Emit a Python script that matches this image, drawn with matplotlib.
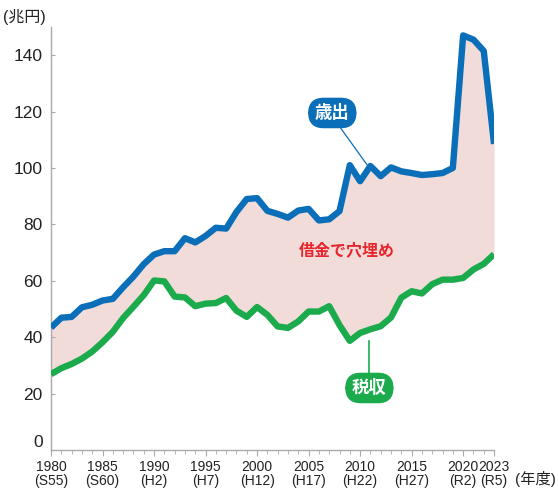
import matplotlib
matplotlib.use("Agg")
import matplotlib.pyplot as plt
from matplotlib.ticker import MultipleLocator

plt.rcParams['font.family'] = ['Liberation Sans', 'Noto Sans CJK JP', 'DejaVu Sans']

years = list(range(1980, 2024))
expenditure = [43.4, 46.9, 47.2, 50.6, 51.5, 53.0, 53.6, 57.7, 61.5, 65.9,
               69.3, 70.5, 70.5, 75.1, 73.6, 75.9, 78.8, 78.5, 84.4, 89.0,
               89.3, 84.8, 83.7, 82.4, 84.9, 85.5, 81.4, 81.8, 84.7, 101.0,
               95.3, 100.7, 97.1, 100.2, 98.8, 98.2, 97.5, 97.8, 98.2, 100.0,
               147.0, 145.5, 141.5, 108.5]
tax_revenue = [26.9, 29.0, 30.5, 32.4, 34.9, 38.2, 41.9, 46.8, 50.8, 54.9,
               60.1, 59.8, 54.4, 54.1, 51.0, 51.9, 52.1, 53.9, 49.4, 47.2,
               50.7, 47.9, 43.8, 43.3, 45.6, 49.1, 49.1, 51.0, 44.3, 38.7,
               41.5, 42.8, 43.9, 47.0, 54.0, 56.3, 55.5, 58.8, 60.4, 60.4,
               61.0, 64.0, 66.0, 69.4]
tick_years = [1980, 1985, 1990, 1995, 2000, 2005, 2010, 2015, 2020, 2023]
era_labels = ["(S55)", "(S60)", "(H2)", "(H7)", "(H12)", "(H17)", "(H22)", "(H27)", "(R2)", "(R5)"]
y_ticks = [0, 20, 40, 60, 80, 100, 120, 140]

BLUE = "#0a6fb8"
GREEN = "#1bab4c"
PINK = "#f2dcda"
RED = "#e6262c"
AXIS = "#aaaaaa"

fig = plt.figure(figsize=(5.58, 4.90), dpi=100)
ax = fig.add_axes([0.0914, 0.0816, 0.794, 0.8634])

ax.fill_between(years, tax_revenue, expenditure, color=PINK, lw=0, zorder=1)
ax.plot(years, expenditure, color=BLUE, lw=4.6, zorder=3, solid_capstyle='butt')
ax.plot(years, tax_revenue, color=GREEN, lw=4.6, zorder=3, solid_capstyle='butt')

ax.set_xlim(1980, 2023)
ax.set_ylim(0, 150)

for s in ['top', 'right']:
    ax.spines[s].set_visible(False)
for s in ['left', 'bottom']:
    ax.spines[s].set_color(AXIS)
    ax.spines[s].set_linewidth(1.0)

ax.set_yticks(y_ticks)
ax.set_yticklabels([str(v) for v in y_ticks], fontsize=12.5, color="#222222")
ax.tick_params(axis='y', direction='in', length=3, color=AXIS, pad=6)
for lbl in ax.get_yticklabels():
    if lbl.get_text() == "0":
        lbl.set_va('bottom')

ax.set_xticks(tick_years)
ax.set_xticklabels([f"{y}\n{e}" for y, e in zip(tick_years, era_labels)],
                   fontsize=10, color="#222222", linespacing=1.05)
ax.xaxis.set_minor_locator(MultipleLocator(1))
ax.tick_params(axis='x', which='major', direction='out', length=4, color=AXIS, pad=3)
ax.tick_params(axis='x', which='minor', direction='out', length=3, color=AXIS)

fig.text(0.006, 0.966, "(兆円)", fontsize=11.5, color="#222222", ha='left', va='center')
fig.text(0.997, 0.022, "(年度)", fontsize=11, color="#222222", ha='right', va='center')

# annotations
ax.plot([2008.1, 2010.7], [114.2, 101.0], color=BLUE, lw=0.9, zorder=4)
ax.text(2007.3, 119.5, "歳出", fontsize=12.5, fontweight='bold', color='white',
        ha='center', va='center', zorder=5,
        bbox=dict(boxstyle='round,pad=0.35,rounding_size=0.85', fc=BLUE, ec=BLUE))

ax.plot([2010.9, 2010.9], [38.5, 27.0], color=GREEN, lw=1.2, zorder=4)
ax.text(2010.9, 22.0, "税収", fontsize=12.5, fontweight='bold', color='white',
        ha='center', va='center', zorder=5,
        bbox=dict(boxstyle='round,pad=0.35,rounding_size=0.85', fc=GREEN, ec=GREEN))

ax.text(2008.7, 70.8, "借金で穴埋め", fontsize=11.5, fontweight='bold', color=RED,
        ha='center', va='center', zorder=5)

fig.savefig("out.png", dpi=100)
